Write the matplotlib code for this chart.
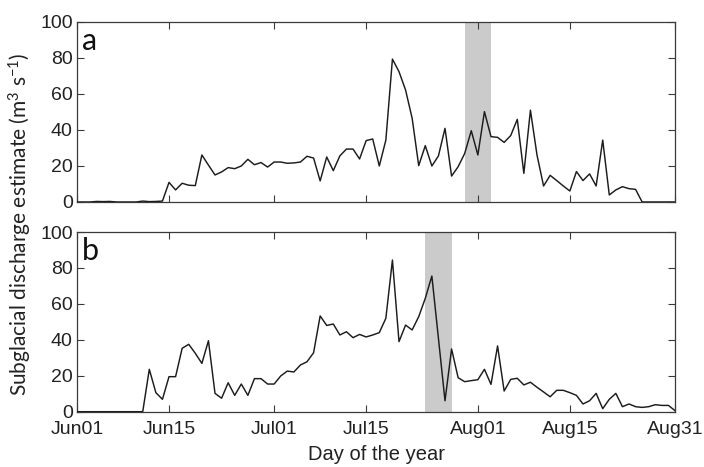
import numpy as np
import matplotlib
matplotlib.use("Agg")
import matplotlib.pyplot as plt

# Daily discharge estimates, 1 June (day 152) to 31 August (day 243)
day_of_year = np.arange(152, 244)

discharge_a = [
    0, 0, 0, 0.3, 0.2, 0.3, 0, 0, 0, 0, 0.5, 0.2, 0.3, 0.5,
    10.9, 6.7, 10.4, 9.3, 9.1, 26.1, 20.5, 15.0, 16.7, 19.1, 18.5, 20.0,
    23.7, 20.7, 21.9, 19.4, 22.2, 22.2, 21.5, 21.7, 22.2, 25.4, 24.4, 11.7,
    25.0, 17.4, 25.6, 29.4, 29.4, 23.9, 34.1, 35.0, 20.0, 34.4, 79.4, 72.4,
    62.2, 46.5, 20.2, 31.3, 20.0, 25.6, 40.9, 14.4, 19.6, 27.0, 39.6, 26.1,
    50.2, 36.3, 35.9, 33.1, 36.9, 45.9, 15.9, 51.0, 26.1, 8.9, 14.8, 11.9,
    8.9, 6.1, 16.9, 11.9, 15.6, 8.9, 34.4, 3.9, 6.7, 8.5, 7.4, 7.0,
    0, 0, 0, 0, 0, 0,
]

discharge_b = [
    0, 0, 0, 0, 0, 0, 0, 0, 0, 0, 0,
    23.6, 10.6, 6.9, 19.5, 19.5, 35.3, 37.5, 32.5, 26.9, 39.5, 10.2, 7.5,
    16.1, 9.1, 15.4, 9.1, 18.4, 18.4, 15.4, 15.4, 19.9, 22.6, 22.1, 26.0,
    27.8, 32.8, 53.3, 48.0, 48.8, 42.7, 44.5, 41.2, 43.0, 41.6, 42.7, 44.0,
    52.0, 84.4, 39.0, 48.2, 45.5, 52.9, 63.1, 75.5, 40.8, 6.1, 34.9, 18.9,
    16.7, 17.3, 17.8, 23.6, 15.2, 36.6, 11.5, 18.0, 18.6, 14.9, 16.4, 13.6,
    11.0, 8.3, 11.9, 11.9, 10.6, 9.1, 4.3, 6.1, 10.2, 1.7, 6.9, 10.2,
    2.8, 4.3, 2.8, 2.4, 2.8, 3.9, 3.5, 3.5, 0.6,
]

# Shaded periods (day of year)
shade_a = (211, 215)
shade_b = (205, 209)

tick_days = [152, 166, 182, 196, 213, 227, 243]
tick_labels = ["Jun01", "Jun15", "Jul01", "Jul15", "Aug01", "Aug15", "Aug31"]
y_ticks = [0, 20, 40, 60, 80, 100]

plt.rcParams["font.family"] = ["Liberation Sans", "DejaVu Sans"]
plt.rcParams["mathtext.fontset"] = "custom"
plt.rcParams["mathtext.rm"] = "Lato"
plt.rcParams["mathtext.it"] = "Lato"

fig = plt.figure(figsize=(7.04, 4.67), dpi=100)
ax_a = fig.add_axes([0.1094, 0.5675, 0.8494, 0.3854])
ax_b = fig.add_axes([0.1094, 0.1184, 0.8494, 0.3848])

spine_col = "#3a3a3a"
line_col = "#1c1c1c"

for ax, data, shade, letter in [
    (ax_a, discharge_a, shade_a, "a"),
    (ax_b, discharge_b, shade_b, "b"),
]:
    ax.axvspan(shade[0], shade[1], color="#cbcbcb", lw=0, zorder=1)
    ax.plot(day_of_year, data, color=line_col, lw=1.05, zorder=3)
    ax.set_xlim(152, 243)
    ax.set_ylim(0, 100)
    ax.set_yticks(y_ticks)
    ax.set_xticks(tick_days)
    ax.tick_params(direction="in", length=5, width=0.8, color=spine_col,
                   top=True, right=True, labelsize=14, labelcolor="#222222")
    ax.tick_params(axis="y", pad=3)
    ax.tick_params(axis="x", pad=7)
    for s in ax.spines.values():
        s.set_color(spine_col)
        s.set_linewidth(0.9)
    ax.text(0.008, 0.97, letter, transform=ax.transAxes, ha="left", va="top",
            fontsize=22, family=["Lato", "DejaVu Sans"], color="#111111")

ax_a.set_xticklabels([])
ax_b.set_xticklabels(tick_labels)
ax_b.set_xlabel("Day of the year", fontsize=14.5, color="#222222", labelpad=5)

fig.text(0.029, 0.52, r"Subglacial discharge estimate (m$^{3}$ s$^{-1}$)",
         rotation=90, ha="center", va="center", fontsize=15,
         family=["Lato", "DejaVu Sans"], color="#222222")

fig.savefig("out.png", dpi=100)
